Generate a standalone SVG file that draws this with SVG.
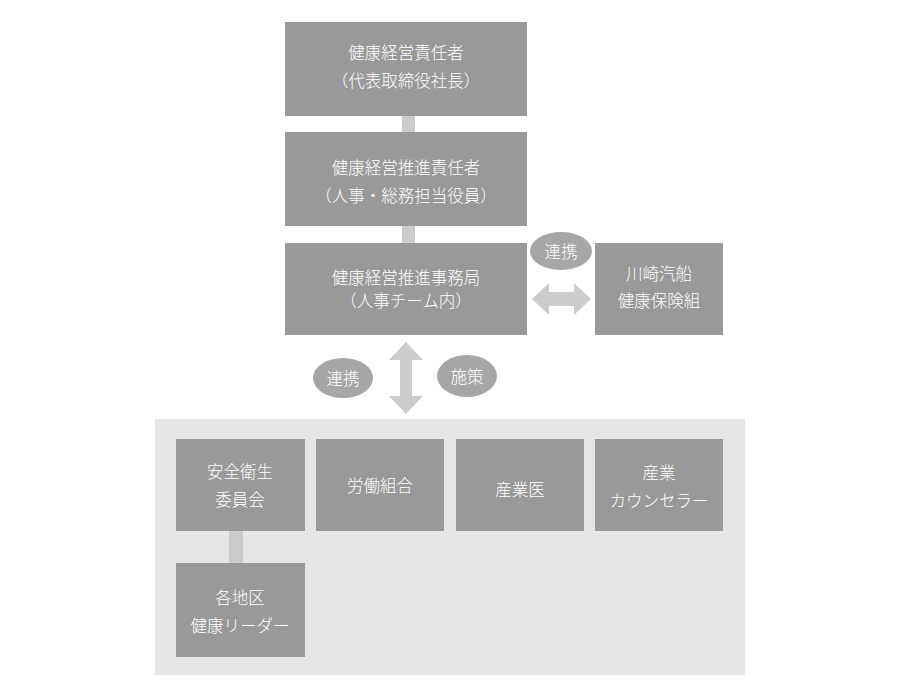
<svg xmlns="http://www.w3.org/2000/svg" width="900" height="700" viewBox="0 0 900 700">
<style>
.box{fill:#999999}
.ell{fill:#a6a6a6}
.con{fill:#cccccc}
text{font-family:"Noto Sans CJK JP","Noto Sans CJK SC",sans-serif;font-size:16.5px;font-weight:300;fill:#ffffff;text-anchor:middle;dominant-baseline:central}
</style>
<rect x="0" y="0" width="900" height="700" fill="#ffffff"/>
<rect id="panel" x="155" y="419" width="590" height="256" fill="#e6e6e6"/>
<g id="connectors">
<rect class="con" x="402" y="115" width="13" height="18"/>
<rect class="con" x="402" y="225" width="13" height="19"/>
<rect class="con" x="229" y="531" width="14" height="33"/>
<polygon class="con" points="532,299 549,283 549,292 574,292 574,283 591,299 574,315 574,306 549,306 549,315"/>
<polygon class="con" points="406,342 423,360 412,360 412,396 423,396 406,414 389,396 400,396 400,360 389,360"/>
</g>
<g id="n1"><rect class="box" x="285" y="22" width="242" height="94"/><text x="406" y="52">健康経営責任者</text><text x="406" y="80">（代表取締役社長）</text></g>
<g id="n2"><rect class="box" x="285" y="132" width="242" height="94"/><text x="406" y="167">健康経営推進責任者</text><text x="406" y="195">（人事・総務担当役員）</text></g>
<g id="n3"><rect class="box" x="285" y="243" width="242" height="92"/><text x="406" y="277">健康経営推進事務局</text><text x="406" y="300">（人事チーム内）</text></g>
<g id="n4"><rect class="box" x="595" y="243" width="128" height="92"/><text x="659" y="273">川崎汽船</text><text x="659" y="300">健康保険組</text></g>
<g id="e1"><ellipse class="ell" cx="561" cy="251" rx="31" ry="19"/><text x="561" y="251">連携</text></g>
<g id="e2"><ellipse class="ell" cx="343" cy="378" rx="30" ry="20"/><text x="343" y="378">連携</text></g>
<g id="e3"><ellipse class="ell" cx="467" cy="376" rx="30" ry="21"/><text x="467" y="376">施策</text></g>
<g id="n5"><rect class="box" x="176" y="439" width="129" height="92"/><text x="240" y="471">安全衛生</text><text x="240" y="499">委員会</text></g>
<g id="n6"><rect class="box" x="316" y="439" width="128" height="92"/><text x="380" y="485">労働組合</text></g>
<g id="n7"><rect class="box" x="456" y="439" width="128" height="92"/><text x="520" y="489">産業医</text></g>
<g id="n8"><rect class="box" x="595" y="439" width="128" height="92"/><text x="659" y="472">産業</text><text x="659" y="500">カウンセラー</text></g>
<g id="n9"><rect class="box" x="176" y="563" width="129" height="94"/><text x="240" y="597">各地区</text><text x="240" y="625">健康リーダー</text></g>
</svg>
